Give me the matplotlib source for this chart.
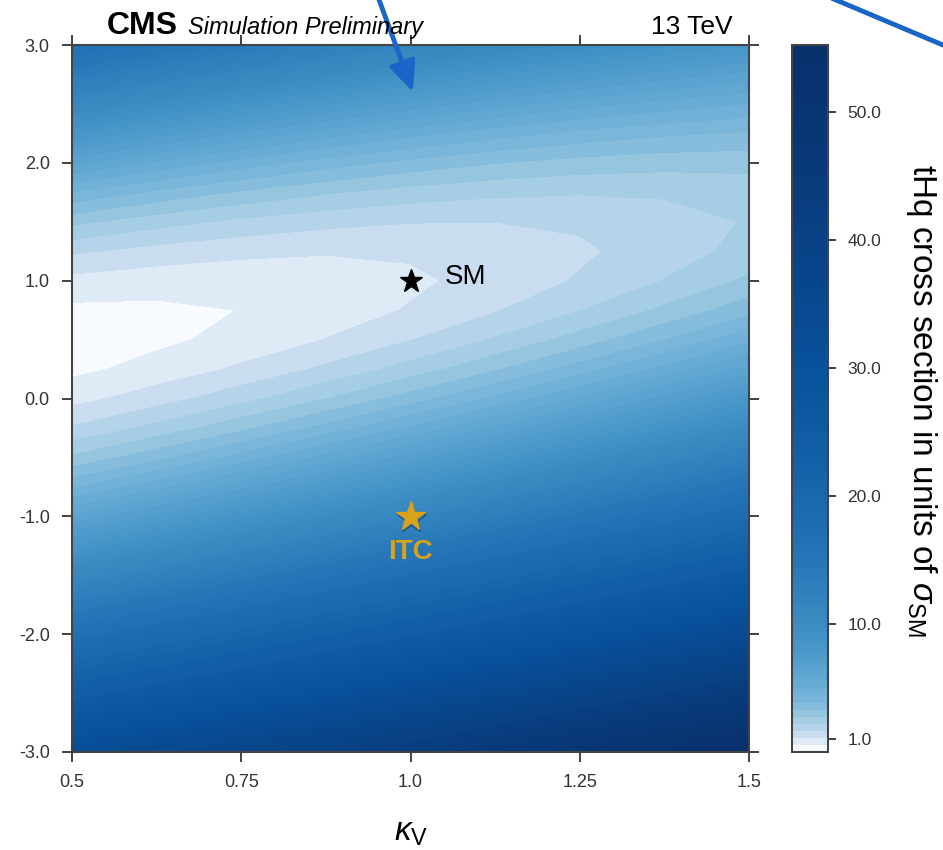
import numpy as np
import matplotlib
matplotlib.use('Agg')
import matplotlib.pyplot as plt
import matplotlib.patheffects as pe
from matplotlib.patches import FancyArrowPatch
from matplotlib.lines import Line2D

plt.rcParams['font.family'] = ['Liberation Sans', 'DejaVu Sans']
plt.rcParams['axes.unicode_minus'] = False
plt.rcParams['mathtext.fontset'] = 'custom'
plt.rcParams['mathtext.rm'] = 'Liberation Sans'
plt.rcParams['mathtext.it'] = 'Liberation Sans:italic'

# grid of couplings
kappa_v = [0.5, 0.625, 0.75, 0.875, 1.0, 1.125, 1.25, 1.375, 1.5]
kappa_t = [-3.0, -2.75, -2.5, -2.25, -2.0, -1.75, -1.5, -1.25, -1.0, -0.75, -0.5, -0.25,
           0.0, 0.25, 0.5, 0.75, 1.0, 1.25, 1.5, 1.75, 2.0, 2.25, 2.5, 2.75, 3.0]

# tHq cross section / sigma_SM, one row per kappa_t value
xsec = [
    [32.38, 34.84, 37.41, 40.09, 42.88, 45.79, 48.80, 51.93, 55.17],
    [27.95, 30.24, 32.65, 35.17, 37.80, 40.54, 43.39, 46.36, 49.44],
    [23.85, 25.98, 28.22, 30.58, 33.04, 35.62, 38.31, 41.12, 44.03],
    [20.07, 22.04, 24.12, 26.31, 28.62, 31.03, 33.56, 36.20, 38.95],
    [16.63, 18.43, 20.35, 22.38, 24.52, 26.77, 29.14, 31.62, 34.21],
    [13.51, 15.15, 16.91, 18.77, 20.75, 22.84, 25.05, 27.36, 29.79],
    [10.72, 12.20, 13.79, 15.50, 17.31, 19.24, 21.28, 23.43, 25.70],
    [8.26, 9.58, 11.01, 12.55, 14.20, 15.97, 17.84, 19.83, 21.93],
    [6.13, 7.28, 8.55, 9.93, 11.42, 13.02, 14.74, 16.56, 18.50],
    [4.33, 5.32, 6.42, 7.64, 8.97, 10.41, 11.96, 13.62, 15.40],
    [2.86, 3.68, 4.63, 5.68, 6.84, 8.12, 9.51, 11.01, 12.62],
    [1.71, 2.38, 3.16, 4.05, 5.05, 6.16, 7.39, 8.72, 10.17],
    [0.90, 1.40, 2.01, 2.74, 3.58, 4.53, 5.59, 6.77, 8.06],
    [0.41, 0.75, 1.20, 1.77, 2.44, 3.23, 4.13, 5.14, 6.27],
    [0.25, 0.43, 0.72, 1.12, 1.63, 2.26, 3.00, 3.84, 4.81],
    [0.42, 0.44, 0.56, 0.80, 1.15, 1.61, 2.19, 2.87, 3.67],
    [0.92, 0.77, 0.74, 0.81, 1.00, 1.30, 1.71, 2.23, 2.87],
    [1.75, 1.44, 1.24, 1.15, 1.18, 1.31, 1.56, 1.92, 2.40],
    [2.91, 2.43, 2.07, 1.82, 1.68, 1.66, 1.74, 1.94, 2.25],
    [4.39, 3.75, 3.23, 2.82, 2.52, 2.33, 2.25, 2.29, 2.43],
    [6.21, 5.41, 4.72, 4.14, 3.68, 3.33, 3.09, 2.96, 2.95],
    [8.35, 7.39, 6.54, 5.80, 5.17, 4.66, 4.25, 3.96, 3.79],
    [10.82, 9.70, 8.68, 7.78, 6.99, 6.32, 5.75, 5.30, 4.96],
    [13.62, 12.33, 11.16, 10.09, 9.14, 8.30, 7.57, 6.96, 6.45],
    [16.75, 15.30, 13.96, 12.74, 11.62, 10.62, 9.73, 8.95, 8.28],
]

x_ticks = [0.5, 0.75, 1.0, 1.25, 1.5]
x_labels = ['0.5', '0.75', '1.0', '1.25', '1.5']
y_ticks = [-3, -2, -1, 0, 1, 2, 3]
y_labels = ['-3.0', '-2.0', '-1.0', '0.0', '1.0', '2.0', '3.0']
cb_ticks = [1, 10, 20, 30, 40, 50]
cb_labels = ['1.0', '10.0', '20.0', '30.0', '40.0', '50.0']

sm_point = (1.0, 1.0)
itc_point = (1.0, -1.0)

W, H = 943, 850
fig = plt.figure(figsize=(W / 100, H / 100), dpi=100)
ax = fig.add_axes([72 / W, 1 - 752 / H, 677 / W, 707 / H])
cax = fig.add_axes([792 / W, 1 - 752 / H, 36 / W, 707 / H])

KV, KT = np.meshgrid(kappa_v, kappa_t)
Z = np.array(xsec)

# linear levels, colours taken from Blues on a log scale
levels = np.linspace(0, 55.2, 101)
mids = 0.5 * (levels[1:] + levels[:-1])
frac = np.clip(np.log(mids / 0.45) / np.log(55.2 / 0.45), 0, 1)
band_colors = plt.cm.Blues(frac)
cs = ax.contourf(KV, KT, Z, levels=levels, colors=band_colors)

ax.set_xlim(0.5, 1.5)
ax.set_ylim(-3, 3)
ax.set_xticks(x_ticks)
ax.set_xticklabels(x_labels)
ax.set_yticks(y_ticks)
ax.set_yticklabels(y_labels)
ax.tick_params(direction='out', top=True, right=True, length=7, width=1.3,
               labelsize=13, labelcolor='#333333', color='#333333', pad=9)
for s in ax.spines.values():
    s.set_linewidth(1.5)
    s.set_color('#444444')

cb = fig.colorbar(cs, cax=cax, ticks=cb_ticks)
cb.ax.set_yticklabels(cb_labels)
cb.ax.tick_params(direction='out', length=6, width=1.3, labelsize=12.5,
                  labelcolor='#333333', color='#333333', pad=8)
cb.outline.set_linewidth(1.5)
cb.outline.set_edgecolor('#444444')

# markers
ax.plot(*sm_point, marker='*', color='black', ms=17, zorder=5)
ax.text(1.05, 1.03, 'SM', fontsize=20, va='center', color='black')
gold = '#d9a21b'
ax.plot(*itc_point, marker='*', color=gold, ms=22, zorder=5,
        path_effects=[pe.SimpleLineShadow(offset=(0.5, -2), shadow_color='black', alpha=0.35),
                      pe.Normal()])
ax.text(1.0, -1.3, 'ITC', fontsize=20, fontweight='bold', color=gold,
        ha='center', va='center')

# header
fig.text(107 / W, 1 - 34 / H, 'CMS', fontsize=23, fontweight='bold', va='baseline')
fig.text(188 / W, 1 - 34 / H, 'Simulation Preliminary', fontsize=17, style='italic',
         va='baseline')
fig.text(733 / W, 1 - 34 / H, '13 TeV', fontsize=19, ha='right', va='baseline')

# axis titles
fig.text(411 / W, 1 - 832 / H, r'$\kappa_\mathrm{V}$', fontsize=24, ha='center', va='center')
fig.text(922 / W, 1 - 400 / H, r'tHq cross section in units of $\sigma_\mathrm{SM}$',
         fontsize=24, rotation=270, ha='center', va='center')

# stray blue arrows from the original slide
blue = '#1a66c8'
arrow = FancyArrowPatch(posA=(376 / W, 1.01), posB=(413 / W, 1 - 92 / H),
                        transform=fig.transFigure, arrowstyle='-|>,head_length=0.9,head_width=0.4',
                        mutation_scale=20, color=blue, lw=3.5, shrinkA=0, shrinkB=0)
fig.add_artist(arrow)
fig.add_artist(Line2D([830 / W, 950 / W], [1.003, 1 - 48 / H], transform=fig.transFigure,
                      color=blue, lw=3.5))

fig.savefig('out.png', dpi=100)
